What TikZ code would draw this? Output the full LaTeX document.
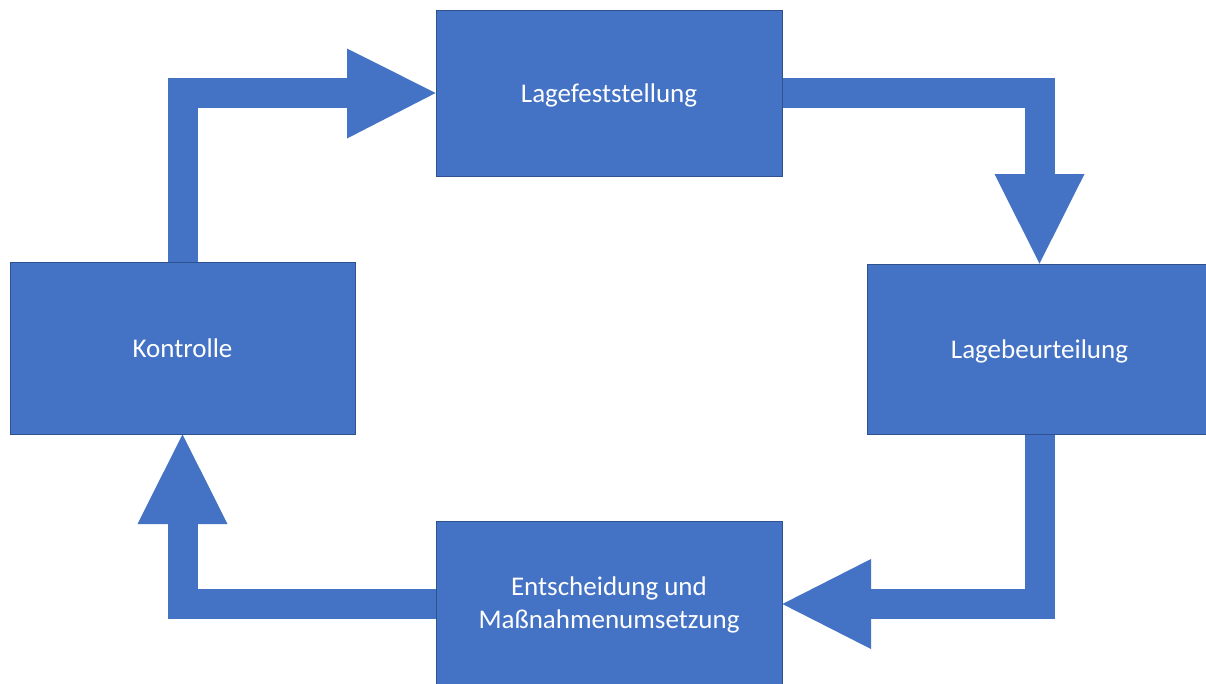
\documentclass[tikz,border=0pt]{standalone}
\usepackage{fontspec}
\setmainfont{Carlito}
\usetikzlibrary{backgrounds}
\definecolor{boxblue}{HTML}{4472C4}
\definecolor{boxedge}{HTML}{2F528F}
\newcommand\lowertext[2]{\raisebox{-#1}[\height][\depth]{#2}}
\begin{document}
\begin{tikzpicture}[x=1pt,y=-1pt,
  stepbox/.style={draw=boxedge, line width=0.8pt, fill=boxblue, text=white,
    inner sep=0pt, font=\fontsize{27}{33}\selectfont},
  oneline/.style={text height=23.5pt, text depth=5pt},
  shaft/.style={draw=boxblue, line width=30pt, line cap=butt, line join=miter},
  head/.style={fill=boxblue}]
\useasboundingbox (0,0) rectangle (1206,683);
\clip (0,0) rectangle (1206,683);
\node[stepbox, oneline, minimum width=345pt, minimum height=172pt] (k) at (182.5,348) {Kontrolle};
\node[stepbox, oneline, minimum width=346pt, minimum height=166pt] (lf) at (609,93) {Lagefeststellung};
\node[stepbox, oneline, minimum width=345pt, minimum height=170pt] (lb) at (1039.5,349) {Lagebeurteilung};
\node[stepbox, minimum width=346pt, minimum height=166pt] (em) at (609,604)
  {\lowertext{1.5pt}{\begin{tabular}{@{}c@{}}Entscheidung und\\Maßnahmenumsetzung\end{tabular}}};
\coordinate (b1) at (347,93);
\coordinate (b2) at (1039.5,174);
\coordinate (b3) at (871,604);
\coordinate (b4) at (182.5,524);
\begin{pgfonlayer}{background}
\fill[white] (0,0) rectangle (1206,683);
\draw[shaft] (k.north) |- (b1);
\fill[head] (347,48.5) -- (lf.west) -- (347,138.5) -- cycle;
\draw[shaft] (lf.east) -| (b2);
\fill[head] (994.5,174) -- (lb.north) -- (1084.5,174) -- cycle;
\draw[shaft] (lb.south) |- (b3);
\fill[head] (871,559) -- (em.east) -- (871,649) -- cycle;
\draw[shaft] (em.west) -| (b4);
\fill[head] (137.5,524) -- (k.south) -- (227.5,524) -- cycle;
\end{pgfonlayer}
\end{tikzpicture}
\end{document}
